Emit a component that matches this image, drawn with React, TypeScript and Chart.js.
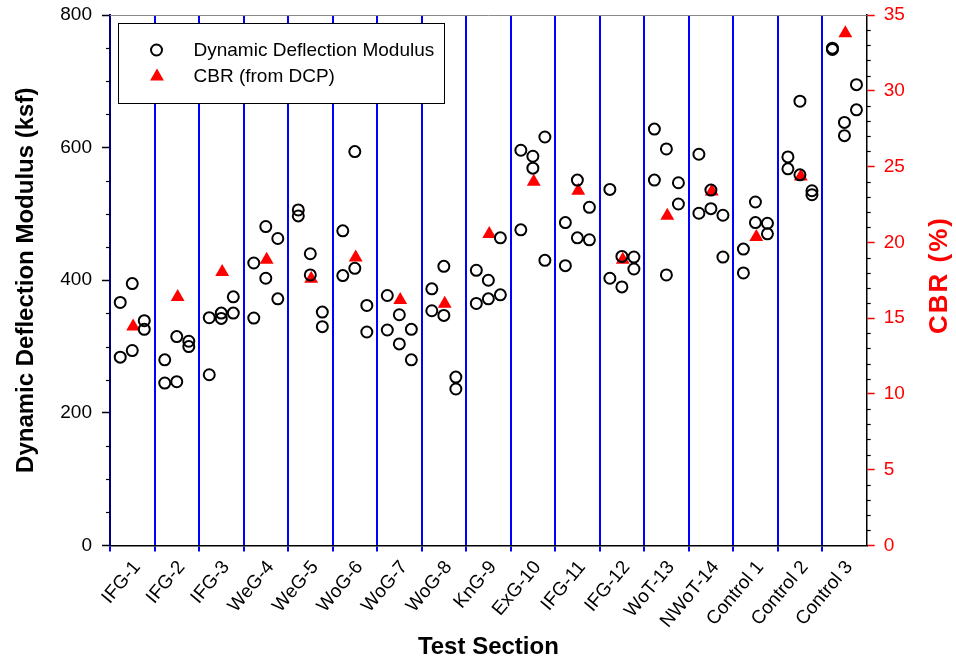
import React, { useEffect, useRef } from "react";
import { Chart, registerables } from "chart.js";

Chart.register(...registerables);

// ---------------- data ----------------
const sections = [
  "IFG-1", "IFG-2", "IFG-3", "WeG-4", "WeG-5", "WoG-6", "WoG-7", "WoG-8", "KnG-9",
  "ExG-10", "IFG-11", "IFG-12", "WoT-13", "NWoT-14", "Control 1", "Control 2", "Control 3",
];

// Dynamic Deflection Modulus (ksf), two readings in each of three columns per section
const ddmLeftA = [366.5, 280, 343.5, 426, 506, 474.5, 377, 387, 415, 596, 487, 537, 628, 590, 447, 586, 750];
const ddmLeftB = [284, 245, 257.5, 343, 497, 407, 325, 354, 365, 476, 422, 403, 551, 501, 411, 568, 748];
const ddmMidA = [395, 247, 350.5, 481, 440, 594, 348, 421, 400, 587, 551, 436, 598, 536, 518, 670, 638];
const ddmMidB = [294, 315, 342.5, 403, 408, 418, 304, 347, 372, 569, 464, 390, 408, 508, 487, 559, 618];
const ddmRightA = [339, 308, 375, 463, 352, 362, 326, 254, 378, 616, 510, 435, 547, 498, 486, 535, 695];
const ddmRightB = [326, 300, 350.5, 372, 330, 322, 280, 236, 464, 430, 461, 417, 515, 435, 470, 529, 657];

// CBR (from DCP), %
const cbr = [14.45, 16.4, 18.05, 18.85, 17.6, 19.0, 16.2, 15.95, 20.55, 24.0, 23.4, 18.85, 21.75, 23.35, 20.35, 24.35, 33.8];

const leftTickValues = [0, 200, 400, 600, 800];
const rightTickValues = [0, 5, 10, 15, 20, 25, 30, 35];

const columnOffsets = [0.23, 0.5, 0.77];
const cbrOffset = 0.52;

const FONT = "'Liberation Sans', Arial, Helvetica, sans-serif";

export default function App() {
  const ref = useRef<HTMLCanvasElement | null>(null);

  useEffect(() => {
    document.body.style.margin = "0";
    const canvas = ref.current;
    if (!canvas) return;

    const columns = [
      [ddmLeftA, ddmLeftB],
      [ddmMidA, ddmMidB],
      [ddmRightA, ddmRightB],
    ];
    const ddmPoints: { x: number; y: number }[] = [];
    sections.forEach((_, i) => {
      columns.forEach((pair, c) => {
        pair.forEach((arr) => ddmPoints.push({ x: i + columnOffsets[c], y: arr[i] }));
      });
    });
    const cbrPoints = cbr.map((v, i) => ({ x: i + cbrOffset, y: v }));

    const decorPlugin = {
      id: "decor",
      afterDraw(chart: any) {
        const { ctx, chartArea: a, scales } = chart;
        ctx.save();
        // top frame line
        ctx.strokeStyle = "#8a8a8a";
        ctx.lineWidth = 1;
        ctx.beginPath();
        ctx.moveTo(a.left, a.top + 0.5);
        ctx.lineTo(a.right, a.top + 0.5);
        ctx.stroke();

        // minor ticks
        ctx.strokeStyle = "#000";
        ctx.lineWidth = 1.2;
        const y = scales.y;
        for (let v = 50; v < 800; v += 50) {
          if (v % 200 === 0) continue;
          const py = Math.round(y.getPixelForValue(v)) + 0.5;
          ctx.beginPath();
          ctx.moveTo(a.left - 4, py);
          ctx.lineTo(a.left, py);
          ctx.stroke();
        }
        const y1 = scales.y1;
        for (let v = 1; v < 35; v += 1) {
          if (v % 5 === 0) continue;
          const py = Math.round(y1.getPixelForValue(v)) + 0.5;
          ctx.beginPath();
          ctx.moveTo(a.right, py);
          ctx.lineTo(a.right + 4, py);
          ctx.stroke();
        }

        // right axis title (reads bottom to top)
        ctx.save();
        ctx.translate(940, 275);
        ctx.rotate(-Math.PI / 2);
        ctx.fillStyle = "#ff0000";
        ctx.font = `bold 26px ${FONT}`;
        try {
          (ctx as any).letterSpacing = "2px";
        } catch (e) {}
        ctx.textAlign = "center";
        ctx.textBaseline = "middle";
        ctx.fillText("CBR (%)", 0, 0);
        ctx.restore();

        // legend
        const lx = a.left + 8.5;
        const ly = a.top + 8.5;
        const lw = 326;
        const lh = 80;
        ctx.fillStyle = "#fff";
        ctx.fillRect(lx, ly, lw, lh);
        ctx.strokeStyle = "#000";
        ctx.lineWidth = 1;
        ctx.strokeRect(lx, ly, lw, lh);

        const ds = chart.data.datasets;
        // circle marker
        ctx.lineWidth = 2;
        ctx.strokeStyle = "#000";
        ctx.beginPath();
        ctx.arc(lx + 38, ly + 26.5, 5.5, 0, Math.PI * 2);
        ctx.stroke();
        // triangle marker
        const r = 8;
        const tx = lx + 38.5;
        const ty = ly + 53;
        ctx.fillStyle = "#ff0000";
        ctx.beginPath();
        for (let k = 0; k < 3; k++) {
          const ang = (k * 2 * Math.PI) / 3;
          const px = tx + Math.sin(ang) * r;
          const pyy = ty - Math.cos(ang) * r;
          if (k === 0) ctx.moveTo(px, pyy);
          else ctx.lineTo(px, pyy);
        }
        ctx.closePath();
        ctx.fill();

        ctx.fillStyle = "#000";
        ctx.font = `19px ${FONT}`;
        ctx.textAlign = "left";
        ctx.textBaseline = "middle";
        ctx.fillText(ds[0].label, lx + 75, ly + 27);
        ctx.fillText(ds[1].label, lx + 75, ly + 53);
        ctx.restore();
      },
    };

    const noVerticalPadding = (s: any) => {
      s.paddingTop = 0;
      s.paddingBottom = 0;
    };

    const chart = new Chart(canvas, {
      type: "scatter",
      data: {
        datasets: [
          {
            label: "Dynamic Deflection Modulus",
            data: ddmPoints,
            yAxisID: "y",
            pointStyle: "circle",
            pointRadius: 5.5,
            pointBorderWidth: 2,
            borderColor: "#000",
            backgroundColor: "rgba(0,0,0,0)",
            showLine: false,
          },
          {
            label: "CBR (from DCP)",
            data: cbrPoints,
            yAxisID: "y1",
            pointStyle: "triangle",
            pointRadius: 8,
            pointBorderWidth: 0,
            borderColor: "#ff0000",
            backgroundColor: "#ff0000",
            showLine: false,
          },
        ],
      },
      options: {
        responsive: false,
        animation: false,
        devicePixelRatio: 1,
        layout: { padding: { top: 15, left: 0, right: 0, bottom: 0 } },
        plugins: {
          legend: { display: false },
          tooltip: { enabled: false },
        },
        scales: {
          x: {
            type: "linear",
            position: "bottom",
            min: 0,
            max: 17,
            afterBuildTicks: (s: any) => {
              s.ticks = sections.concat([""]).map((_, i) => ({ value: i }));
            },
            afterFit: (s: any) => {
              s.height = 116.5;
              s.paddingLeft = 0;
              s.paddingRight = 0;
            },
            ticks: {
              autoSkip: false,
              minRotation: 50,
              maxRotation: 50,
              labelOffset: 27,
              padding: 5,
              color: "#000",
              font: { family: FONT, size: 19 },
              callback: (v: any) => sections[v] ?? "",
            },
            grid: {
              color: (c: any) => (c.index === 0 || c.index === 17 ? "rgba(0,0,0,0)" : "#0000ff"),
              lineWidth: 2,
              drawTicks: true,
              tickLength: 6,
              tickWidth: 2,
              tickColor: (c: any) => (c.index === 17 ? "rgba(0,0,0,0)" : "#0000ff"),
            },
            border: { color: "#000", width: 1.5 },
            title: {
              display: true,
              text: "Test Section",
              color: "#000",
              font: { family: FONT, size: 24, weight: "bold" },
              padding: { top: 0, bottom: 0 },
            },
          },
          y: {
            type: "linear",
            position: "left",
            min: 0,
            max: 800,
            afterBuildTicks: (s: any) => {
              s.ticks = leftTickValues.map((v) => ({ value: v }));
            },
            afterFit: (s: any) => {
              s.width = 110;
              noVerticalPadding(s);
            },
            ticks: {
              color: "#000",
              padding: 10,
              font: { family: FONT, size: 19 },
            },
            grid: {
              drawOnChartArea: false,
              drawTicks: true,
              tickLength: 8,
              tickWidth: 1.5,
              tickColor: "#000",
            },
            border: { color: "#000080", width: 2 },
            title: {
              display: true,
              text: "Dynamic Deflection Modulus (ksf)",
              color: "#000",
              font: { family: FONT, size: 24, weight: "bold" },
              padding: { top: 11.5, bottom: 0 },
            },
          },
          y1: {
            type: "linear",
            position: "right",
            min: 0,
            max: 35,
            afterBuildTicks: (s: any) => {
              s.ticks = rightTickValues.map((v) => ({ value: v }));
            },
            afterFit: (s: any) => {
              s.width = 89.3;
              noVerticalPadding(s);
            },
            ticks: {
              color: "#ff0000",
              padding: 9,
              font: { family: FONT, size: 19 },
            },
            grid: {
              drawOnChartArea: false,
              drawTicks: true,
              tickLength: 8,
              tickWidth: 1.5,
              tickColor: "#ff0000",
            },
            border: { color: "#000", width: 1.5 },
          },
        },
      },
      plugins: [decorPlugin],
    } as any);

    return () => chart.destroy();
  }, []);

  return <canvas ref={ref} width={956} height={662} style={{ display: "block" }} />;
}
